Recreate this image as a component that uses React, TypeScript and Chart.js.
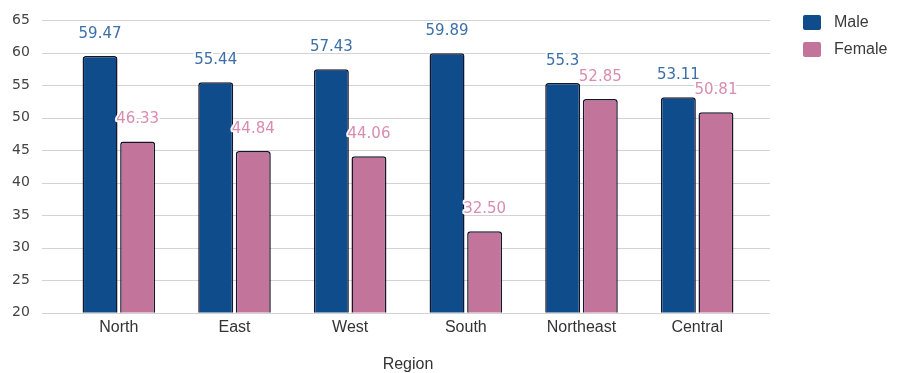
import { useEffect, useRef } from "react";
import { Chart, registerables } from "chart.js";

Chart.register(...registerables);

// Regions along the x axis
const regions = ["North", "East", "West", "South", "Northeast", "Central"];
// Series values per region
const maleValues = [59.47, 55.44, 57.43, 59.89, 55.3, 53.11];
const femaleValues = [46.33, 44.84, 44.06, 32.5, 52.85, 50.81];
const seriesNames = ["Male", "Female"];
// Value axis range
const yMin = 20;
const yMax = 65;
const yStep = 5;
const xAxisTitle = "Region";

const maleColor = "#0f4c8b";
const femaleColor = "#c2749b";
const maleLabelColor = "#3c6fa8";
const femaleLabelColor = "#d98cb0";
const barEdge = "#15152b";

// Horizontal grid lines that run a little past the bar area on both sides
const gridPlugin = {
  id: "wideGrid",
  beforeDatasetsDraw(chart: any) {
    const { ctx, chartArea, scales } = chart;
    const y = scales.y;
    ctx.save();
    ctx.strokeStyle = "#d3d3d3";
    ctx.lineWidth = 1;
    y.ticks.forEach((t: any) => {
      const py = Math.round(y.getPixelForValue(t.value)) + 0.5;
      ctx.beginPath();
      ctx.moveTo(chartArea.left - 19, py);
      ctx.lineTo(chartArea.right + 15, py);
      ctx.stroke();
    });
    ctx.restore();
  },
};

// Value labels above each bar
const valueLabelPlugin = {
  id: "valueLabels",
  afterDatasetsDraw(chart: any) {
    const { ctx } = chart;
    ctx.save();
    ctx.font = "15px 'DejaVu Sans', sans-serif";
    ctx.textAlign = "center";
    ctx.textBaseline = "middle";
    ctx.lineJoin = "round";
    chart.data.datasets.forEach((ds: any, di: number) => {
      const meta = chart.getDatasetMeta(di);
      meta.data.forEach((bar: any, i: number) => {
        const v = ds.data[i];
        const text = di === 0 ? String(v) : v.toFixed(2);
        const x = bar.x;
        const y = bar.y - 22;
        ctx.lineWidth = 4;
        ctx.strokeStyle = "rgba(255,255,255,0.95)";
        ctx.strokeText(text, x, y);
        ctx.fillStyle = di === 0 ? maleLabelColor : femaleLabelColor;
        ctx.fillText(text, x, y);
      });
    });
    ctx.restore();
  },
};

// Legend boxes at the top right
const sideLegendPlugin = {
  id: "sideLegend",
  afterDraw(chart: any) {
    const { ctx } = chart;
    ctx.save();
    ctx.font = "16px 'Liberation Sans', Arial, sans-serif";
    ctx.textBaseline = "middle";
    ctx.textAlign = "left";
    chart.data.datasets.forEach((ds: any, i: number) => {
      const top = 15 + i * 27;
      ctx.fillStyle = ds.backgroundColor;
      ctx.beginPath();
      ctx.roundRect(803, top, 18, 15, 2);
      ctx.fill();
      ctx.fillStyle = "#3a3a3a";
      ctx.fillText(ds.label, 834, top + 8);
    });
    ctx.restore();
  },
};

export default function App() {
  const canvasRef = useRef<HTMLCanvasElement | null>(null);

  useEffect(() => {
    if (!canvasRef.current) return;
    const chart = new Chart(canvasRef.current, {
      type: "bar",
      data: {
        labels: regions,
        datasets: [
          {
            label: seriesNames[0],
            data: maleValues,
            backgroundColor: maleColor,
            borderColor: barEdge,
            borderWidth: 1.5,
            borderRadius: { topLeft: 3, topRight: 3 },
            borderSkipped: "bottom",
          },
          {
            label: seriesNames[1],
            data: femaleValues,
            backgroundColor: femaleColor,
            borderColor: barEdge,
            borderWidth: 1.5,
            borderRadius: { topLeft: 3, topRight: 3 },
            borderSkipped: "bottom",
          },
        ],
      },
      options: {
        animation: false,
        responsive: true,
        maintainAspectRatio: false,
        layout: { padding: { top: 20, left: 12, right: 146, bottom: -1 } },
        datasets: {
          bar: { categoryPercentage: 0.65, barPercentage: 0.93 },
        },
        plugins: {
          legend: { display: false },
          tooltip: { enabled: false },
          title: { display: false },
        },
        scales: {
          x: {
            grid: { display: false, drawTicks: false },
            border: { display: false },
            ticks: {
              color: "#333",
              padding: 5,
              font: { family: "'Liberation Sans', Arial, sans-serif", size: 16 },
            },
            title: {
              display: true,
              text: xAxisTitle,
              color: "#333",
              padding: { top: 13, bottom: 0 },
              font: { family: "'Liberation Sans', Arial, sans-serif", size: 16 },
            },
          },
          y: {
            min: yMin,
            max: yMax,
            grid: { display: false, drawTicks: false },
            border: { display: false },
            afterFit(scale: any) {
              scale.width = 49;
            },
            ticks: {
              stepSize: yStep,
              color: "#444",
              padding: 3,
              crossAlign: "far",
              font: { family: "'DejaVu Sans', sans-serif", size: 14 },
            },
          },
        },
      },
      plugins: [gridPlugin, valueLabelPlugin, sideLegendPlugin],
    });
    return () => chart.destroy();
  }, []);

  return (
    <div
      style={{
        position: "fixed",
        left: 0,
        top: 0,
        width: "901px",
        height: "373px",
        background: "#ffffff",
      }}
    >
      <canvas ref={canvasRef} />
    </div>
  );
}
